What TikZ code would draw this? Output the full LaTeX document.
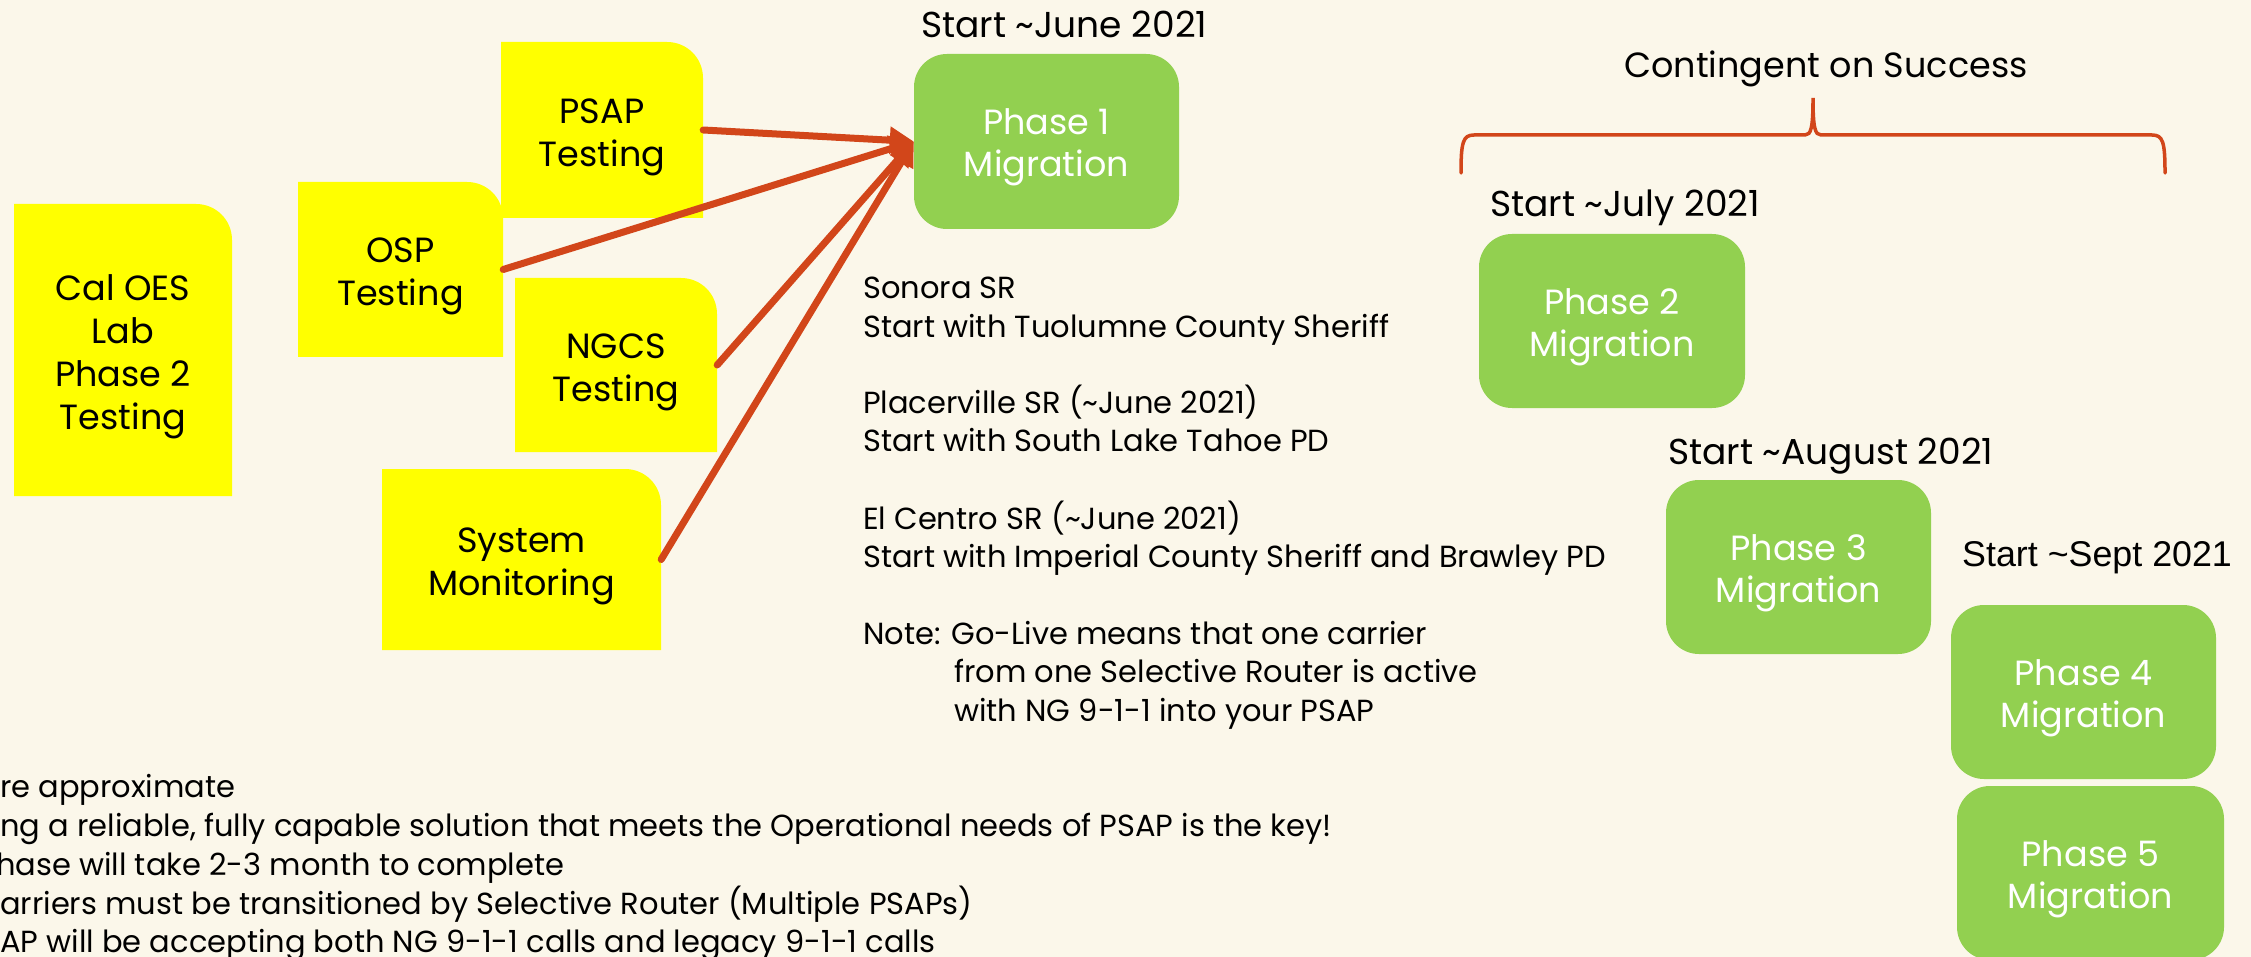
\documentclass[tikz,border=0pt]{standalone}
\usepackage{fontspec}
\setmainfont{Poppins}
\newfontfamily\arialf{Liberation Sans}
\usetikzlibrary{arrows.meta}
\definecolor{bgc}{HTML}{FBF7EA}
\definecolor{yel}{HTML}{FFFF00}
\definecolor{grn}{HTML}{92D050}
\definecolor{org}{HTML}{D2461A}
\newcommand\fz[2]{\fontsize{#1}{#2}\selectfont}
\newcommand\ybox[6]{%
 \fill[yel] (#2,#5) -- (#2,#3) -- ({#4-36},#3) .. controls ({#4-16},#3) and (#4,{#3+16}) .. (#4,{#3+36}) -- (#4,#5) -- cycle;
 \node[inner sep=0pt, minimum width={#4-#2}, minimum height={#5-#3}] (#1) at ({(#2+#4)/2},{(#3+#5)/2}) {};
 \node[ytext, yshift=-7pt] (#1t) at (#1.center) {#6};}
\newcommand\gbox[6]{%
 \node[gshape, minimum width=#4, minimum height=#5] (#1) at (#2,#3) {};
 \node[gtext, yshift=-6pt] (#1t) at (#1.center) {#6};}
\begin{document}
\begin{tikzpicture}[x=1pt,y=-1pt,
 ytext/.style={inner sep=0pt, align=center, font=\fz{35}{43}, text=black},
 gshape/.style={fill=grn, rounded corners=33pt, inner sep=0pt},
 gtext/.style={inner sep=0pt, align=center, font=\fz{35}{42}, text=white},
 lbl/.style={anchor=base west, inner sep=0pt, font=\fz{36}{43}},
 body/.style={anchor=base west, inner sep=0pt, font=\fz{30.5}{38}},
 foot/.style={anchor=base west, inner sep=0pt, font=\fz{30.5}{38}},
 arr/.style={draw=org, line width=7pt, line cap=round, -{Triangle[length=24pt,width=26pt]}},
 brace/.style={draw=org, line width=3.5pt, line cap=round}
]
\useasboundingbox (0,0) rectangle (2251,957);
\fill[bgc] (0,0) rectangle (2251,957);
\clip (0,0) rectangle (2251,957);

% yellow testing boxes
\ybox{cal}{14}{204}{232}{496}{Cal OES\\Lab\\Phase 2\\Testing}
\ybox{psap}{501}{42}{703}{218}{PSAP\\Testing}
\ybox{osp}{298}{182}{503}{357}{OSP\\Testing}
\ybox{ngcs}{515}{278}{717}{452}{NGCS\\Testing}
\ybox{sysm}{382}{469}{661}{650}{System\\Monitoring}

% green phase boxes
\gbox{p1}{1046.5}{141.5}{265}{175}{Phase 1\\Migration}
\gbox{p2}{1612}{321}{266}{174}{Phase 2\\Migration}
\gbox{p3}{1798.5}{567}{265}{174}{Phase 3\\Migration}
\gbox{p4}{2083.5}{692}{265}{174}{Phase 4\\Migration}
\gbox{p5}{2090.5}{873}{267}{174}{Phase 5\\Migration}

% arrows
\draw[arr] (psap.east) -- (p1.west);
\draw[arr] (osp.east) -- (p1.west);
\draw[arr] (ngcs.east) -- (p1.west);
\draw[arr] (sysm.east) -- (p1.west);

% start labels
\node[lbl] (s1) at (921,38) {Start \textasciitilde June 2021};
\node[lbl] (s2) at (1490,217) {Start \textasciitilde July 2021};
\node[lbl] (s3) at (1668,464) {Start \textasciitilde August 2021};
\node[anchor=base west, inner sep=0pt, font=\arialf\fz{35.8}{42}] (s4) at (1962,566) {Start \textasciitilde Sept 2021};

% brace
\node[anchor=base, inner sep=0pt, font=\fz{35}{42}] (cs) at (1826,78) {Contingent on Success};
\draw[brace] (1461,173) .. controls (1461,142) and (1463,135) .. (1474,135) -- (1805,135)
  .. controls (1811,135) and (1813,128) .. (1813,98)
  .. controls (1813,128) and (1815,135) .. (1821,135) -- (2152,135)
  .. controls (2163,135) and (2165,142) .. (2165,173);

% SR descriptions
\node[body] (t1) at (863,299) {Sonora SR};
\node[body] (t2) at (863,338) {Start with Tuolumne County Sheriff};
\node[body] (t3) at (863,413) {Placerville SR (\textasciitilde June 2021)};
\node[body] (t4) at (863,451) {Start with South Lake Tahoe PD};
\node[body] (t5) at (863,529) {El Centro SR (\textasciitilde June 2021)};
\node[body] (t6) at (863,567) {Start with Imperial County Sheriff and Brawley PD};
\node[body] (t7) at (863,644) {Note: Go-Live means that one carrier};
\node[body] (t8) at (954,682) {from one Selective Router is active};
\node[body] (t9) at (954,721) {with NG 9-1-1 into your PSAP};

% footnotes (clipped at left edge)
\node[foot] (f1) at (0,797) {re approximate};
\node[foot] (f2) at (0,836) {ng a reliable, fully capable solution that meets the Operational needs of PSAP is the key!};
\node[foot] (f3) at (-4,875) {hase will take 2-3 month to complete};
\node[foot] (f4) at (0,914) {arriers must be transitioned by Selective Router (Multiple PSAPs)};
\node[foot] (f5) at (0,952) {AP will be accepting both NG 9-1-1 calls and legacy 9-1-1 calls};
\end{tikzpicture}
\end{document}
